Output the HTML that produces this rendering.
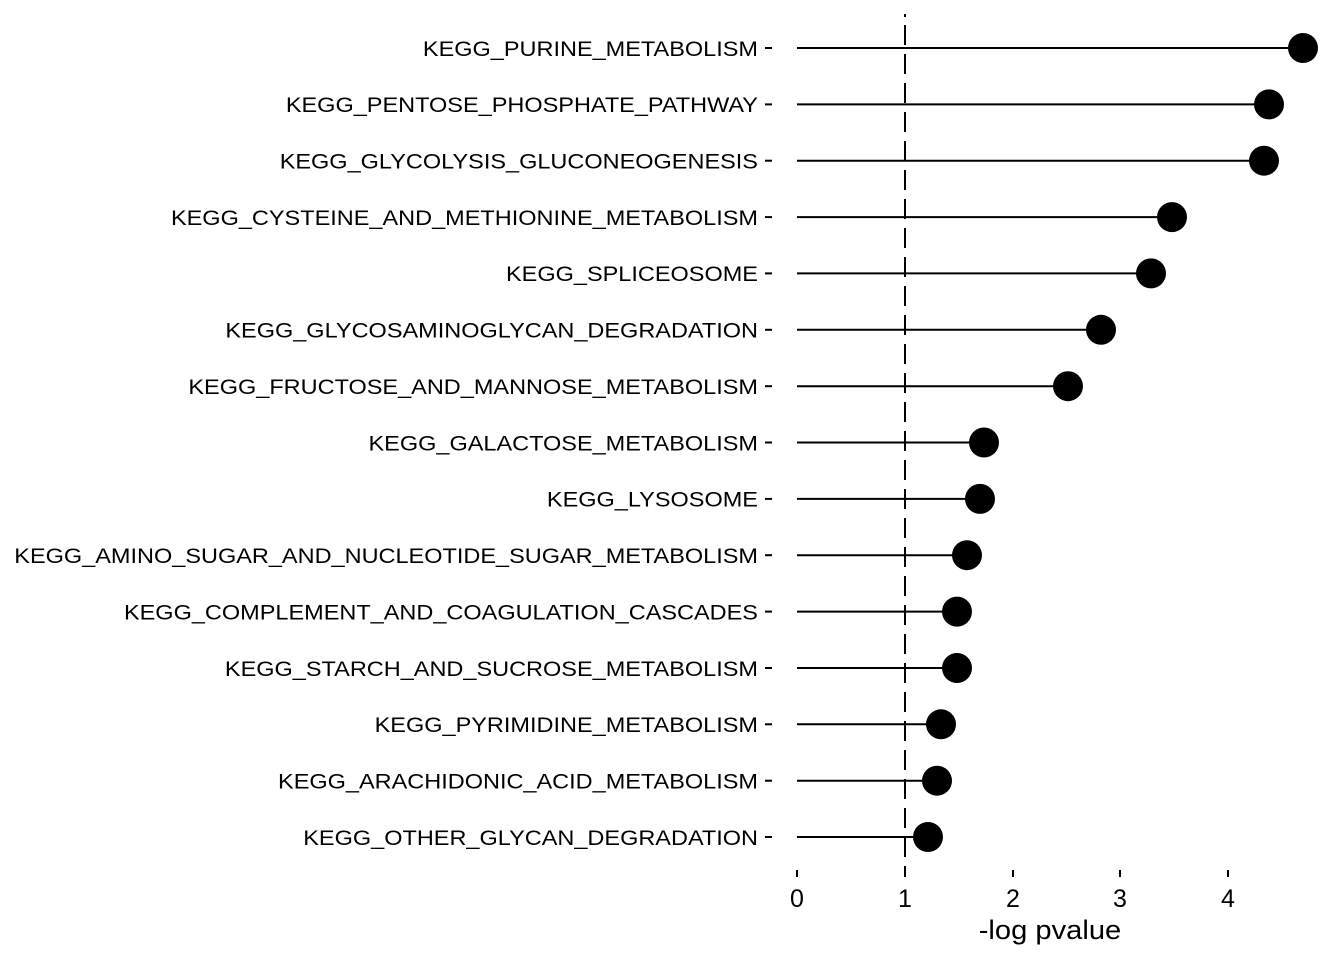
<!DOCTYPE html>
<html><head><style>body{margin:0;background:#fff}</style></head><body>
<svg width="1344" height="960" xmlns="http://www.w3.org/2000/svg" font-family="Liberation Sans, Arial, sans-serif">
<line x1="905" y1="14" x2="905" y2="17" stroke="#000" stroke-width="2"/>
<line x1="905" y1="25" x2="905" y2="877" stroke="#000" stroke-width="2" stroke-dasharray="20,9"/>
<g stroke="#000" stroke-width="2">
<line x1="797" y1="48" x2="1303" y2="48"/><line x1="797" y1="104.4" x2="1269" y2="104.4"/><line x1="797" y1="160.7" x2="1264" y2="160.7"/><line x1="797" y1="217.1" x2="1172" y2="217.1"/><line x1="797" y1="273.4" x2="1151" y2="273.4"/><line x1="797" y1="329.8" x2="1101" y2="329.8"/><line x1="797" y1="386.2" x2="1068" y2="386.2"/><line x1="797" y1="442.5" x2="984" y2="442.5"/><line x1="797" y1="498.9" x2="980" y2="498.9"/><line x1="797" y1="555.2" x2="967" y2="555.2"/><line x1="797" y1="611.6" x2="957" y2="611.6"/><line x1="797" y1="668" x2="957" y2="668"/><line x1="797" y1="724.3" x2="941" y2="724.3"/><line x1="797" y1="780.7" x2="937" y2="780.7"/><line x1="797" y1="837" x2="928" y2="837"/>
<line x1="765" y1="48" x2="772" y2="48"/><line x1="765" y1="104.4" x2="772" y2="104.4"/><line x1="765" y1="160.7" x2="772" y2="160.7"/><line x1="765" y1="217.1" x2="772" y2="217.1"/><line x1="765" y1="273.4" x2="772" y2="273.4"/><line x1="765" y1="329.8" x2="772" y2="329.8"/><line x1="765" y1="386.2" x2="772" y2="386.2"/><line x1="765" y1="442.5" x2="772" y2="442.5"/><line x1="765" y1="498.9" x2="772" y2="498.9"/><line x1="765" y1="555.2" x2="772" y2="555.2"/><line x1="765" y1="611.6" x2="772" y2="611.6"/><line x1="765" y1="668" x2="772" y2="668"/><line x1="765" y1="724.3" x2="772" y2="724.3"/><line x1="765" y1="780.7" x2="772" y2="780.7"/><line x1="765" y1="837" x2="772" y2="837"/>
<line x1="797" y1="870" x2="797" y2="877"/><line x1="905" y1="870" x2="905" y2="877"/><line x1="1013" y1="870" x2="1013" y2="877"/><line x1="1120" y1="870" x2="1120" y2="877"/><line x1="1228" y1="870" x2="1228" y2="877"/>
</g>
<g fill="#000">
<circle cx="1303" cy="48" r="15"/><circle cx="1269" cy="104.4" r="15"/><circle cx="1264" cy="160.7" r="15"/><circle cx="1172" cy="217.1" r="15"/><circle cx="1151" cy="273.4" r="15"/><circle cx="1101" cy="329.8" r="15"/><circle cx="1068" cy="386.2" r="15"/><circle cx="984" cy="442.5" r="15"/><circle cx="980" cy="498.9" r="15"/><circle cx="967" cy="555.2" r="15"/><circle cx="957" cy="611.6" r="15"/><circle cx="957" cy="668" r="15"/><circle cx="941" cy="724.3" r="15"/><circle cx="937" cy="780.7" r="15"/><circle cx="928" cy="837" r="15"/>
</g>
<g font-size="21.5" text-anchor="end" fill="#000" transform="translate(758 0) scale(1.093 1) translate(-758 0)">
<text x="758" y="55.8">KEGG_PURINE_METABOLISM</text>
<text x="758" y="112.2">KEGG_PENTOSE_PHOSPHATE_PATHWAY</text>
<text x="758" y="168.5">KEGG_GLYCOLYSIS_GLUCONEOGENESIS</text>
<text x="758" y="224.9">KEGG_CYSTEINE_AND_METHIONINE_METABOLISM</text>
<text x="758" y="281.2">KEGG_SPLICEOSOME</text>
<text x="758" y="337.6">KEGG_GLYCOSAMINOGLYCAN_DEGRADATION</text>
<text x="758" y="394">KEGG_FRUCTOSE_AND_MANNOSE_METABOLISM</text>
<text x="758" y="450.3">KEGG_GALACTOSE_METABOLISM</text>
<text x="758" y="506.7">KEGG_LYSOSOME</text>
<text x="758" y="563">KEGG_AMINO_SUGAR_AND_NUCLEOTIDE_SUGAR_METABOLISM</text>
<text x="758" y="619.4">KEGG_COMPLEMENT_AND_COAGULATION_CASCADES</text>
<text x="758" y="675.8">KEGG_STARCH_AND_SUCROSE_METABOLISM</text>
<text x="758" y="732.1">KEGG_PYRIMIDINE_METABOLISM</text>
<text x="758" y="788.5">KEGG_ARACHIDONIC_ACID_METABOLISM</text>
<text x="758" y="844.8">KEGG_OTHER_GLYCAN_DEGRADATION</text>
</g>
<g font-size="25" text-anchor="middle" fill="#000">
<text x="797" y="907">0</text><text x="905" y="907">1</text><text x="1013" y="907">2</text><text x="1120" y="907">3</text><text x="1228" y="907">4</text>
<text x="1050" y="939" font-size="26.5" transform="translate(1050 0) scale(1.1 1) translate(-1050 0)">-log pvalue</text>
</g>
</svg>
</body></html>
